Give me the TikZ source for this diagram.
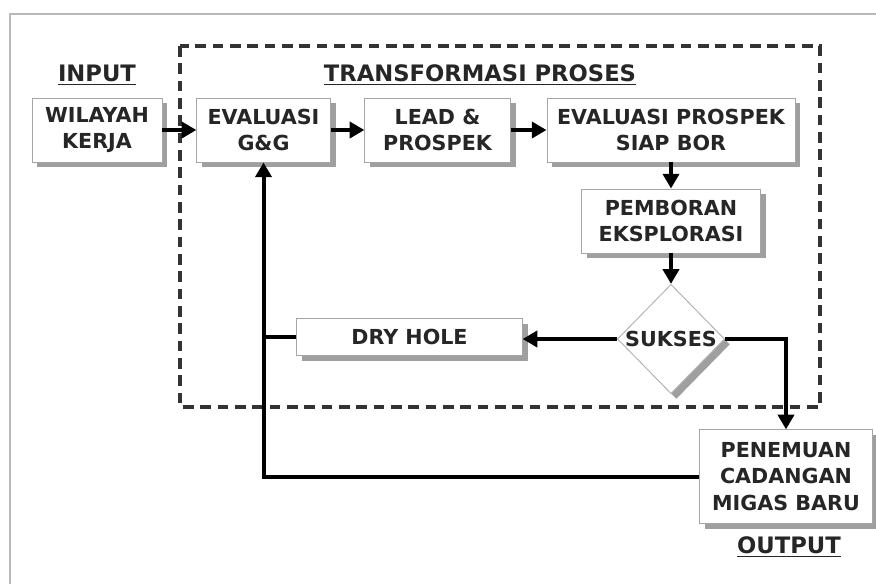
\documentclass[tikz,border=0pt]{standalone}
\usepackage{fontspec}
\setmainfont{DejaVu Sans}
\usetikzlibrary{arrows.meta,shapes.geometric,shadows}
\begin{document}
\begin{tikzpicture}[
  x=0.75pt, y=-0.75pt,
  every node/.style={font=\bfseries\fontsize{15.5}{20}\selectfont, text=black!85},
  box/.style={rectangle, draw=gray!70, line width=0.7pt, fill=white, align=center,
    inner sep=2pt, drop shadow={shadow xshift=4pt, shadow yshift=-4pt, fill=gray!75, opacity=1}},
  cond/.style={diamond, draw=gray!60, line width=0.7pt, fill=white, inner sep=0pt,
    minimum width=75pt, minimum height=82pt,
    drop shadow={shadow xshift=4pt, shadow yshift=-4pt, fill=gray!75, opacity=1}},
  title/.style={font=\bfseries\fontsize{17}{20}\selectfont},
  arr/.style={-{Triangle[length=11pt,width=12pt]}, line width=3pt},
  link/.style={line width=3pt}
]
\useasboundingbox (0,0) rectangle (876,583);
% frame and process area
\draw[gray!55, line width=2pt] (10,600) -- (10,14) -- (890,14);
\draw[black!80, line width=2.6pt, dash pattern=on 8pt off 5pt] (180,46) rectangle (820,407);
% labels
\node[title] (lin) at (97,75) {\underline{INPUT}};
\node[title] (lproc) at (480,75) {\underline{TRANSFORMASI PROSES}};
\node[title] (lout) at (789,547) {\underline{OUTPUT}};
% blocks
\node[box, minimum width=97.5pt, minimum height=48pt] (wil) at (97,130) {WILAYAH\\KERJA};
\node[box, minimum width=100pt, minimum height=48pt] (gg) at (263.5,130) {EVALUASI\\G\&G};
\node[box, minimum width=109pt, minimum height=48pt] (lead) at (437.5,130) {LEAD \&\\PROSPEK};
\node[box, minimum width=186pt, minimum height=48pt] (evp) at (671,130) {EVALUASI PROSPEK\\SIAP BOR};
\node[box, minimum width=134pt, minimum height=48pt] (bor) at (671,221) {PEMBORAN\\EKSPLORASI};
\node[cond] (suk) at (671,339) {SUKSES};
\node[box, minimum width=169pt, minimum height=28pt] (dry) at (409.5,337) {DRY HOLE};
\node[box, minimum width=130pt, minimum height=70pt] (pen) at (786,476.5) {PENEMUAN\\CADANGAN\\MIGAS BARU};
% connectors
\draw[arr] (wil) -- (gg);
\draw[arr] (gg) -- (lead);
\draw[arr] (lead) -- (evp);
\draw[arr] (evp) -- (bor);
\draw[arr] (bor) -- (suk);
\draw[arr] (suk.west) -- (suk.west -| dry.east);
\draw[arr] (suk.east) -| (pen.north);
\draw[link] (dry.west) -- (dry.west -| gg.south);
\draw[arr] (pen.west) -| (gg.south);
\end{tikzpicture}
\end{document}
